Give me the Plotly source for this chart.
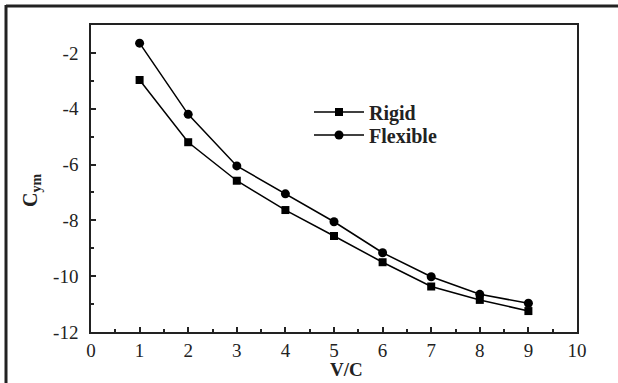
import plotly.graph_objects as go

vc = [1, 2, 3, 4, 5, 6, 7, 8, 9]
rigid = [-2.97, -5.20, -6.58, -7.63, -8.56, -9.50, -10.37, -10.85, -11.25]
flexible = [-1.65, -4.20, -6.05, -7.05, -8.05, -9.16, -10.02, -10.65, -10.97]

x_ticks = list(range(0, 11))
y_ticks = [-12, -10, -8, -6, -4, -2]

FONT = "Liberation Serif, Times New Roman, serif"
L, R, T, B = 91, 41, 25, 51
W, H = 618, 383
pw, ph = W - L - R, H - T - B

def px(x):
    return (x - L) / pw

def py(y):
    return (H - B - y) / ph

fig = go.Figure()
fig.add_trace(go.Scatter(
    x=vc, y=rigid, name="<b>Rigid</b>", mode="lines+markers",
    line=dict(color="black", width=1.5),
    marker=dict(symbol="square", size=8, color="black"),
    legend="legend", showlegend=True,
))
fig.add_trace(go.Scatter(
    x=vc, y=flexible, name="<b>Flexible</b>", mode="lines+markers",
    line=dict(color="black", width=1.5),
    marker=dict(symbol="circle", size=9, color="black"),
    legend="legend2", showlegend=True,
))

axis_common = dict(
    showgrid=False, zeroline=False, showline=True, linecolor="#222",
    linewidth=1.5, mirror=True, ticks="inside", ticklen=5, tickwidth=1.5,
    tickcolor="#222", tickfont=dict(family=FONT, size=19, color="#222"),
)
fig.update_xaxes(range=[0, 10], tickvals=x_ticks, ticktext=[str(v) for v in x_ticks],
                 minor=dict(ticks="inside", ticklen=3, tickwidth=1.5, tickcolor="#222", dtick=0.5, tick0=0),
                 **axis_common)
fig.update_yaxes(range=[-12, -1], tickvals=y_ticks, ticktext=[str(v) for v in y_ticks],
                 ticklabelstandoff=7,
                 minor=dict(ticks="inside", ticklen=3, tickwidth=1.5, tickcolor="#222", dtick=1, tick0=0),
                 **axis_common)

fig.add_annotation(text="<b>V/C</b>", x=px(346), y=py(369), xref="paper", yref="paper",
                   xanchor="center", yanchor="middle",
                   showarrow=False, font=dict(family=FONT, size=19, color="#222"))
fig.add_annotation(text="<b>C<sub>ym</sub></b>", x=px(31), y=py(191), xref="paper", yref="paper",
                   xanchor="center", yanchor="middle",
                   showarrow=False, textangle=-90, font=dict(family=FONT, size=20, color="#222"))

# outer frame (top and left)
fig.add_shape(type="line", xref="paper", yref="paper", x0=px(6), x1=px(W + 5), y0=py(6), y1=py(6),
              line=dict(color="#222", width=3))
fig.add_shape(type="line", xref="paper", yref="paper", x0=px(6), x1=px(6), y0=py(5), y1=py(H + 5),
              line=dict(color="#222", width=3))

leg_common = dict(xanchor="left", yanchor="middle", bgcolor="rgba(0,0,0,0)",
                  itemwidth=50, font=dict(family=FONT, size=20, color="#222"), visible=True)
fig.update_layout(
    width=W, height=H, margin=dict(l=L, r=R, t=T, b=B),
    paper_bgcolor="white", plot_bgcolor="white", showlegend=True,
    font=dict(family=FONT, size=18, color="#222"),
    legend=dict(x=px(309), y=py(112), **leg_common),
    legend2=dict(x=px(309), y=py(135), **leg_common),
)

fig.write_html("out.html")
